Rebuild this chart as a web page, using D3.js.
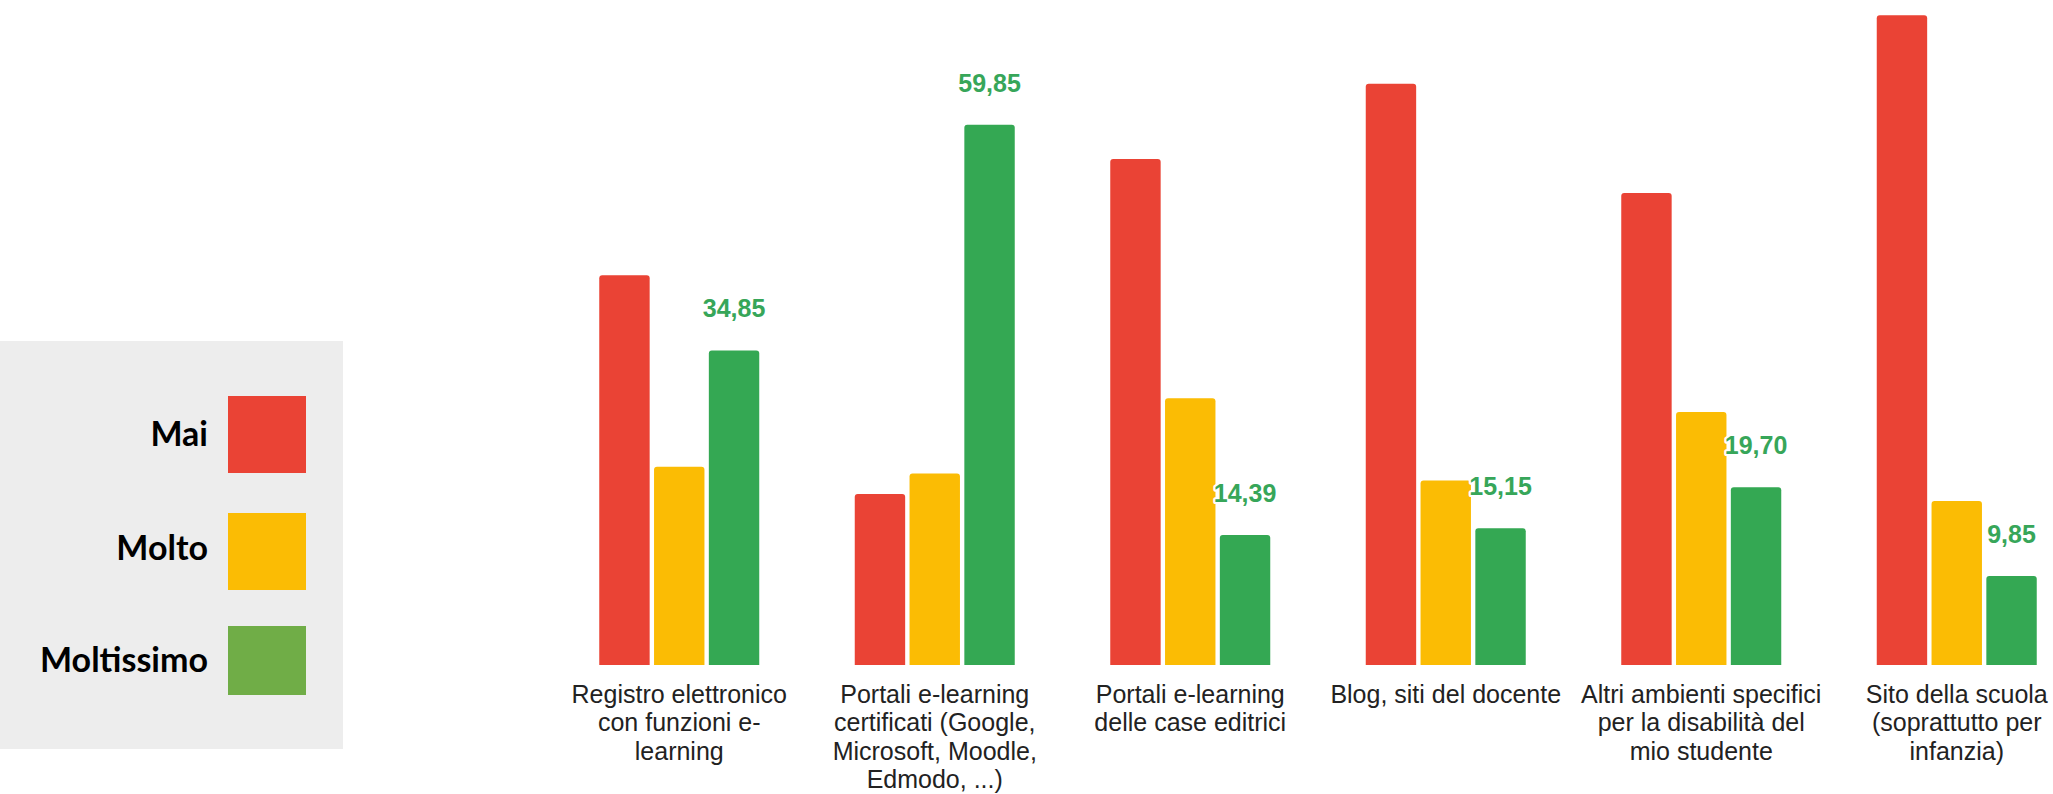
<!DOCTYPE html>
<html>
<head>
<meta charset="utf-8">
<script src="https://cdn.jsdelivr.net/npm/d3@7"></script>
<style>
  html, body { margin: 0; padding: 0; background: #ffffff; }
  svg { display: block; }
</style>
</head>
<body>
<svg id="chart" width="2053" height="794"></svg>
<script>
// ---- data ----
const categories = [
  "Registro elettronico\ncon funzioni e-\nlearning",
  "Portali e-learning\ncertificati (Google,\nMicrosoft, Moodle,\nEdmodo, ...)",
  "Portali e-learning\ndelle case editrici",
  "Blog, siti del docente",
  "Altri ambienti specifici\nper la disabilità del\nmio studente",
  "Sito della scuola\n(soprattutto per\ninfanzia)"
];
const seriesNames = ["Mai", "Molto", "Moltissimo"];
const mai        = [43.18, 18.94, 56.06, 64.39, 52.27, 71.97];
const molto      = [21.97, 21.21, 29.55, 20.45, 28.03, 18.18];
const moltissimo = [34.85, 59.85, 14.39, 15.15, 19.70, 9.85];
const barColors    = ["#EA4335", "#FBBC04", "#34A853"];
const legendColors = ["#EA4335", "#FBBC04", "#70AD47"];

const seriesValues = [mai, molto, moltissimo];

// ---- layout ----
const svg = d3.select("#chart");
const baseY = 665;

const x0 = d3.scaleBand()
  .domain(categories)
  .range([551.5, 2084.5])
  .padding(0);

const groupW = 160;
const x1 = d3.scaleBand()
  .domain(seriesNames)
  .range([0, groupW])
  .paddingInner(0.08)
  .paddingOuter(0);

const y = d3.scaleLinear().domain([0, 72]).range([baseY, 15]);

function topRoundedBar(x, yTop, w, h, r) {
  r = Math.min(r, w / 2, h);
  return `M${x},${yTop + h}` +
         `V${yTop + r}` +
         `Q${x},${yTop} ${x + r},${yTop}` +
         `H${x + w - r}` +
         `Q${x + w},${yTop} ${x + w},${yTop + r}` +
         `V${yTop + h}Z`;
}

// ---- bars ----
const groups = svg.append("g").selectAll("g.grp")
  .data(categories)
  .join("g")
  .attr("class", "grp")
  .attr("transform", d => `translate(${x0(d) + (x0.bandwidth() - groupW) / 2},0)`);

groups.each(function(cat, ci) {
  const g = d3.select(this);
  const rows = seriesNames.map((s, si) => ({ s, si, v: seriesValues[si][ci] }));
  g.selectAll("path.bar")
    .data(rows)
    .join("path")
    .attr("class", "bar")
    .attr("fill", d => barColors[d.si])
    .attr("d", d => topRoundedBar(x1(d.s), y(d.v), x1.bandwidth(), baseY - y(d.v), 3));

  // value label for Moltissimo
  const gv = moltissimo[ci];
  g.append("text")
    .attr("x", x1("Moltissimo") + x1.bandwidth() / 2)
    .attr("y", y(gv) - 33)
    .attr("text-anchor", "middle")
    .attr("font-family", "'Liberation Sans', Arial, sans-serif")
    .attr("font-weight", "bold")
    .attr("font-size", 25)
    .attr("fill", "#37A659")
    .attr("stroke", "#ffffff")
    .attr("stroke-width", 4)
    .attr("stroke-linejoin", "round")
    .attr("paint-order", "stroke")
    .text(gv.toFixed(2).replace(".", ","));
});

// ---- category labels ----
const lab = svg.append("g").selectAll("text.cat")
  .data(categories)
  .join("text")
  .attr("class", "cat")
  .attr("x", d => x0(d) + x0.bandwidth() / 2)
  .attr("y", 703)
  .attr("text-anchor", "middle")
  .attr("font-family", "'Liberation Sans', Arial, sans-serif")
  .attr("font-size", 25)
  .attr("fill", "#222222");

lab.each(function(d) {
  const t = d3.select(this);
  const cx = +t.attr("x");
  d.split("\n").forEach((line, i) => {
    t.append("tspan")
      .attr("x", cx)
      .attr("dy", i === 0 ? 0 : 28.3)
      .text(line);
  });
});

// ---- legend ----
const leg = svg.append("g");
leg.append("rect")
  .attr("x", 0).attr("y", 341)
  .attr("width", 343).attr("height", 408)
  .attr("fill", "#EDEDED");

const legendSquares = [
  { y: 396, h: 77 },
  { y: 513, h: 77 },
  { y: 626, h: 69 }
];
const legendBaselines = [446, 560, 672];

seriesNames.forEach((name, i) => {
  leg.append("rect")
    .attr("x", 228).attr("y", legendSquares[i].y)
    .attr("width", 78).attr("height", legendSquares[i].h)
    .attr("fill", legendColors[i]);
  leg.append("text")
    .attr("x", 208)
    .attr("y", legendBaselines[i])
    .attr("text-anchor", "end")
    .attr("font-family", "Lato, 'Open Sans', sans-serif")
    .attr("font-weight", "bold")
    .attr("font-size", 34)
    .attr("fill", "#000000")
    .text(name);
});
</script>
</body>
</html>
